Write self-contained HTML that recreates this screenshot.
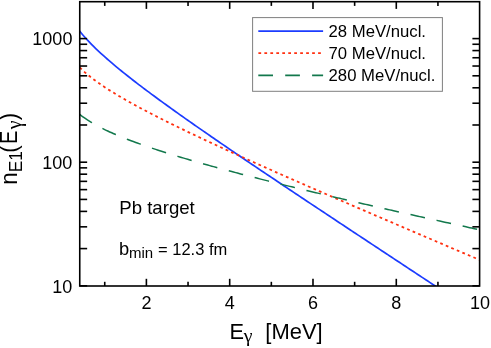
<!DOCTYPE html>
<html><head><meta charset="utf-8"><title>chart</title>
<style>
html,body{margin:0;padding:0;background:#fff;}
body{width:491px;height:348px;overflow:hidden;}
svg{display:block;will-change:transform;}
text{font-family:"Liberation Sans",sans-serif;fill:#000;}
.g{font-family:"Liberation Serif",serif;}
</style></head><body>
<svg width="491" height="348" viewBox="0 0 491 348">
<rect x="0" y="0" width="491" height="348" fill="#fff"/>
<defs><clipPath id="cp"><rect x="79.75" y="1.70" width="399.85" height="284.30"/></clipPath></defs>
<g clip-path="url(#cp)" fill="none" stroke-linejoin="round">
<path d="M79.75 31.16 C80.42 31.96 82.42 34.44 83.75 35.99 C85.08 37.53 86.42 39.00 87.75 40.43 C89.08 41.87 90.42 43.24 91.75 44.60 C93.08 45.95 94.42 47.26 95.75 48.54 C97.08 49.83 98.42 51.09 99.75 52.32 C101.08 53.56 102.42 54.77 103.75 55.97 C105.08 57.17 106.42 58.34 107.75 59.50 C109.08 60.66 110.42 61.81 111.75 62.94 C113.08 64.07 114.42 65.19 115.75 66.30 C117.08 67.41 118.42 68.51 119.75 69.60 C121.08 70.68 122.42 71.76 123.75 72.83 C125.08 73.90 126.42 74.96 127.75 76.01 C129.08 77.07 130.42 78.11 131.75 79.15 C133.08 80.19 134.42 81.22 135.75 82.25 C137.08 83.28 138.42 84.30 139.75 85.31 C141.08 86.33 142.42 87.34 143.75 88.34 C145.08 89.35 146.42 90.35 147.75 91.34 C149.08 92.34 150.42 93.33 151.75 94.32 C153.08 95.30 154.42 96.29 155.75 97.27 C157.08 98.25 158.42 99.22 159.75 100.20 C161.08 101.17 162.42 102.14 163.75 103.11 C165.08 104.07 166.42 105.04 167.75 106.00 C169.08 106.96 170.42 107.92 171.75 108.87 C173.08 109.83 174.42 110.78 175.75 111.73 C177.08 112.68 178.42 113.63 179.75 114.58 C181.08 115.52 182.42 116.47 183.75 117.41 C185.08 118.35 186.42 119.29 187.75 120.23 C189.08 121.17 190.42 122.10 191.75 123.04 C193.08 123.97 194.42 124.90 195.75 125.84 C197.08 126.77 198.42 127.70 199.75 128.62 C201.08 129.55 202.42 130.48 203.75 131.40 C205.08 132.33 206.42 133.25 207.75 134.17 C209.08 135.09 210.42 136.01 211.75 136.93 C213.08 137.85 214.42 138.77 215.75 139.69 C217.08 140.60 218.42 141.52 219.75 142.43 C221.08 143.35 222.42 144.26 223.75 145.17 C225.08 146.08 226.42 147.00 227.75 147.91 C229.08 148.82 230.42 149.73 231.75 150.63 C233.08 151.54 234.42 152.45 235.75 153.36 C237.08 154.26 238.42 155.17 239.75 156.07 C241.08 156.98 242.42 157.88 243.75 158.78 C245.08 159.69 246.42 160.59 247.75 161.49 C249.08 162.39 250.42 163.29 251.75 164.19 C253.08 165.09 254.42 165.99 255.75 166.89 C257.08 167.79 258.42 168.69 259.75 169.59 C261.08 170.49 262.42 171.38 263.75 172.28 C265.08 173.18 266.42 174.07 267.75 174.97 C269.08 175.86 270.42 176.76 271.75 177.65 C273.08 178.55 274.42 179.44 275.75 180.33 C277.08 181.23 278.42 182.12 279.75 183.01 C281.08 183.90 282.42 184.79 283.75 185.69 C285.08 186.58 286.42 187.47 287.75 188.36 C289.08 189.25 290.42 190.14 291.75 191.03 C293.08 191.92 294.42 192.81 295.75 193.70 C297.08 194.59 298.42 195.47 299.75 196.36 C301.08 197.25 302.42 198.14 303.75 199.03 C305.08 199.91 306.42 200.80 307.75 201.69 C309.08 202.57 310.42 203.46 311.75 204.35 C313.08 205.23 314.42 206.12 315.75 207.01 C317.08 207.89 318.42 208.78 319.75 209.66 C321.08 210.55 322.42 211.43 323.75 212.32 C325.08 213.20 326.42 214.09 327.75 214.97 C329.08 215.85 330.42 216.74 331.75 217.62 C333.08 218.51 334.42 219.39 335.75 220.27 C337.08 221.16 338.42 222.04 339.75 222.92 C341.08 223.81 342.42 224.69 343.75 225.57 C345.08 226.46 346.42 227.34 347.75 228.22 C349.08 229.10 350.42 229.98 351.75 230.87 C353.08 231.75 354.42 232.63 355.75 233.51 C357.08 234.39 358.42 235.28 359.75 236.16 C361.08 237.04 362.42 237.92 363.75 238.80 C365.08 239.68 366.42 240.56 367.75 241.45 C369.08 242.33 370.42 243.21 371.75 244.09 C373.08 244.97 374.42 245.85 375.75 246.73 C377.08 247.61 378.42 248.49 379.75 249.37 C381.08 250.25 382.42 251.13 383.75 252.01 C385.08 252.89 386.42 253.77 387.75 254.66 C389.08 255.54 390.42 256.42 391.75 257.30 C393.08 258.18 394.42 259.06 395.75 259.94 C397.08 260.82 398.42 261.70 399.75 262.58 C401.08 263.46 402.42 264.34 403.75 265.22 C405.08 266.10 406.42 266.98 407.75 267.86 C409.08 268.74 410.42 269.62 411.75 270.50 C413.08 271.38 414.42 272.25 415.75 273.13 C417.08 274.01 418.42 274.89 419.75 275.77 C421.08 276.65 422.42 277.53 423.75 278.41 C425.08 279.29 426.42 280.17 427.75 281.05 C429.08 281.93 430.42 282.81 431.75 283.69 C433.08 284.57 434.96 285.81 435.75 286.33 C436.54 286.85 436.38 286.74 436.50 286.83" stroke="#1c3cff" stroke-width="1.7"/>
<path d="M79.75 67.42 C80.42 68.06 82.42 70.02 83.75 71.24 C85.08 72.45 86.42 73.59 87.75 74.70 C89.08 75.82 90.42 76.88 91.75 77.91 C93.08 78.95 94.42 79.95 95.75 80.92 C97.08 81.90 98.42 82.84 99.75 83.77 C101.08 84.70 102.42 85.61 103.75 86.50 C105.08 87.39 106.42 88.26 107.75 89.11 C109.08 89.97 110.42 90.81 111.75 91.64 C113.08 92.47 114.42 93.29 115.75 94.09 C117.08 94.90 118.42 95.69 119.75 96.48 C121.08 97.27 122.42 98.04 123.75 98.81 C125.08 99.58 126.42 100.34 127.75 101.09 C129.08 101.84 130.42 102.59 131.75 103.33 C133.08 104.07 134.42 104.80 135.75 105.53 C137.08 106.25 138.42 106.97 139.75 107.69 C141.08 108.40 142.42 109.11 143.75 109.82 C145.08 110.52 146.42 111.23 147.75 111.92 C149.08 112.62 150.42 113.31 151.75 114.00 C153.08 114.69 154.42 115.37 155.75 116.05 C157.08 116.73 158.42 117.41 159.75 118.08 C161.08 118.76 162.42 119.43 163.75 120.10 C165.08 120.76 166.42 121.43 167.75 122.09 C169.08 122.75 170.42 123.41 171.75 124.07 C173.08 124.72 174.42 125.38 175.75 126.03 C177.08 126.68 178.42 127.33 179.75 127.98 C181.08 128.62 182.42 129.27 183.75 129.91 C185.08 130.55 186.42 131.19 187.75 131.83 C189.08 132.47 190.42 133.11 191.75 133.74 C193.08 134.37 194.42 135.01 195.75 135.64 C197.08 136.27 198.42 136.90 199.75 137.53 C201.08 138.15 202.42 138.78 203.75 139.41 C205.08 140.03 206.42 140.65 207.75 141.27 C209.08 141.90 210.42 142.52 211.75 143.14 C213.08 143.75 214.42 144.37 215.75 144.99 C217.08 145.60 218.42 146.22 219.75 146.83 C221.08 147.45 222.42 148.06 223.75 148.67 C225.08 149.28 226.42 149.89 227.75 150.50 C229.08 151.11 230.42 151.72 231.75 152.33 C233.08 152.94 234.42 153.54 235.75 154.15 C237.08 154.75 238.42 155.36 239.75 155.96 C241.08 156.56 242.42 157.17 243.75 157.77 C245.08 158.37 246.42 158.97 247.75 159.57 C249.08 160.17 250.42 160.77 251.75 161.37 C253.08 161.97 254.42 162.56 255.75 163.16 C257.08 163.76 258.42 164.35 259.75 164.95 C261.08 165.55 262.42 166.14 263.75 166.73 C265.08 167.33 266.42 167.92 267.75 168.51 C269.08 169.11 270.42 169.70 271.75 170.29 C273.08 170.88 274.42 171.47 275.75 172.06 C277.08 172.65 278.42 173.24 279.75 173.83 C281.08 174.42 282.42 175.01 283.75 175.60 C285.08 176.19 286.42 176.77 287.75 177.36 C289.08 177.95 290.42 178.54 291.75 179.12 C293.08 179.71 294.42 180.29 295.75 180.88 C297.08 181.46 298.42 182.05 299.75 182.63 C301.08 183.22 302.42 183.80 303.75 184.38 C305.08 184.97 306.42 185.55 307.75 186.13 C309.08 186.71 310.42 187.30 311.75 187.88 C313.08 188.46 314.42 189.04 315.75 189.62 C317.08 190.20 318.42 190.78 319.75 191.36 C321.08 191.94 322.42 192.52 323.75 193.10 C325.08 193.68 326.42 194.26 327.75 194.84 C329.08 195.42 330.42 196.00 331.75 196.58 C333.08 197.15 334.42 197.73 335.75 198.31 C337.08 198.89 338.42 199.46 339.75 200.04 C341.08 200.62 342.42 201.20 343.75 201.77 C345.08 202.35 346.42 202.92 347.75 203.50 C349.08 204.08 350.42 204.65 351.75 205.23 C353.08 205.80 354.42 206.38 355.75 206.95 C357.08 207.53 358.42 208.10 359.75 208.68 C361.08 209.25 362.42 209.83 363.75 210.40 C365.08 210.97 366.42 211.55 367.75 212.12 C369.08 212.69 370.42 213.27 371.75 213.84 C373.08 214.41 374.42 214.99 375.75 215.56 C377.08 216.13 378.42 216.70 379.75 217.28 C381.08 217.85 382.42 218.42 383.75 218.99 C385.08 219.57 386.42 220.14 387.75 220.71 C389.08 221.28 390.42 221.85 391.75 222.42 C393.08 223.00 394.42 223.57 395.75 224.14 C397.08 224.71 398.42 225.28 399.75 225.85 C401.08 226.42 402.42 226.99 403.75 227.56 C405.08 228.13 406.42 228.70 407.75 229.27 C409.08 229.84 410.42 230.41 411.75 230.98 C413.08 231.55 414.42 232.12 415.75 232.69 C417.08 233.26 418.42 233.83 419.75 234.40 C421.08 234.97 422.42 235.54 423.75 236.11 C425.08 236.68 426.42 237.25 427.75 237.82 C429.08 238.39 430.42 238.96 431.75 239.52 C433.08 240.09 434.42 240.66 435.75 241.23 C437.08 241.80 438.42 242.37 439.75 242.94 C441.08 243.50 442.42 244.07 443.75 244.64 C445.08 245.21 446.42 245.78 447.75 246.35 C449.08 246.91 450.42 247.48 451.75 248.05 C453.08 248.62 454.42 249.19 455.75 249.75 C457.08 250.32 458.42 250.89 459.75 251.46 C461.08 252.03 462.42 252.59 463.75 253.16 C465.08 253.73 466.42 254.30 467.75 254.86 C469.08 255.43 470.42 256.00 471.75 256.57 C473.08 257.13 474.44 257.71 475.75 258.27 C477.06 258.83 478.96 259.63 479.60 259.91" stroke="#ff3010" stroke-width="1.8" stroke-dasharray="2.76 3.243"/>
<path d="M79.75 114.37 C80.42 114.87 82.42 116.42 83.75 117.37 C85.08 118.32 86.42 119.22 87.75 120.09 C89.08 120.95 90.42 121.78 91.75 122.57 C93.08 123.37 94.42 124.13 95.75 124.88 C97.08 125.62 98.42 126.33 99.75 127.03 C101.08 127.72 102.42 128.39 103.75 129.05 C105.08 129.71 106.42 130.35 107.75 130.97 C109.08 131.60 110.42 132.21 111.75 132.80 C113.08 133.40 114.42 133.98 115.75 134.56 C117.08 135.13 118.42 135.69 119.75 136.24 C121.08 136.80 122.42 137.34 123.75 137.87 C125.08 138.40 126.42 138.93 127.75 139.45 C129.08 139.96 130.42 140.47 131.75 140.98 C133.08 141.48 134.42 141.97 135.75 142.46 C137.08 142.95 138.42 143.43 139.75 143.91 C141.08 144.39 142.42 144.86 143.75 145.33 C145.08 145.80 146.42 146.26 147.75 146.71 C149.08 147.17 150.42 147.62 151.75 148.07 C153.08 148.52 154.42 148.96 155.75 149.40 C157.08 149.84 158.42 150.28 159.75 150.71 C161.08 151.14 162.42 151.57 163.75 151.99 C165.08 152.42 166.42 152.84 167.75 153.26 C169.08 153.68 170.42 154.09 171.75 154.51 C173.08 154.92 174.42 155.33 175.75 155.73 C177.08 156.14 178.42 156.54 179.75 156.95 C181.08 157.35 182.42 157.75 183.75 158.14 C185.08 158.54 186.42 158.93 187.75 159.32 C189.08 159.72 190.42 160.11 191.75 160.49 C193.08 160.88 194.42 161.27 195.75 161.65 C197.08 162.03 198.42 162.41 199.75 162.79 C201.08 163.17 202.42 163.55 203.75 163.93 C205.08 164.30 206.42 164.68 207.75 165.05 C209.08 165.42 210.42 165.79 211.75 166.16 C213.08 166.53 214.42 166.90 215.75 167.26 C217.08 167.63 218.42 167.99 219.75 168.36 C221.08 168.72 222.42 169.08 223.75 169.44 C225.08 169.80 226.42 170.16 227.75 170.52 C229.08 170.87 230.42 171.23 231.75 171.58 C233.08 171.94 234.42 172.29 235.75 172.64 C237.08 173.00 238.42 173.35 239.75 173.70 C241.08 174.05 242.42 174.40 243.75 174.74 C245.08 175.09 246.42 175.44 247.75 175.78 C249.08 176.13 250.42 176.47 251.75 176.82 C253.08 177.16 254.42 177.50 255.75 177.84 C257.08 178.18 258.42 178.53 259.75 178.86 C261.08 179.20 262.42 179.54 263.75 179.88 C265.08 180.22 266.42 180.55 267.75 180.89 C269.08 181.23 270.42 181.56 271.75 181.90 C273.08 182.23 274.42 182.56 275.75 182.90 C277.08 183.23 278.42 183.56 279.75 183.89 C281.08 184.22 282.42 184.55 283.75 184.88 C285.08 185.21 286.42 185.54 287.75 185.87 C289.08 186.20 290.42 186.52 291.75 186.85 C293.08 187.18 294.42 187.50 295.75 187.83 C297.08 188.15 298.42 188.48 299.75 188.80 C301.08 189.12 302.42 189.45 303.75 189.77 C305.08 190.09 306.42 190.42 307.75 190.74 C309.08 191.06 310.42 191.38 311.75 191.70 C313.08 192.02 314.42 192.34 315.75 192.66 C317.08 192.98 318.42 193.29 319.75 193.61 C321.08 193.93 322.42 194.25 323.75 194.56 C325.08 194.88 326.42 195.20 327.75 195.51 C329.08 195.83 330.42 196.14 331.75 196.46 C333.08 196.77 334.42 197.09 335.75 197.40 C337.08 197.71 338.42 198.03 339.75 198.34 C341.08 198.65 342.42 198.96 343.75 199.28 C345.08 199.59 346.42 199.90 347.75 200.21 C349.08 200.52 350.42 200.83 351.75 201.14 C353.08 201.45 354.42 201.76 355.75 202.07 C357.08 202.38 358.42 202.69 359.75 202.99 C361.08 203.30 362.42 203.61 363.75 203.92 C365.08 204.23 366.42 204.53 367.75 204.84 C369.08 205.15 370.42 205.45 371.75 205.76 C373.08 206.06 374.42 206.37 375.75 206.67 C377.08 206.98 378.42 207.28 379.75 207.59 C381.08 207.89 382.42 208.19 383.75 208.50 C385.08 208.80 386.42 209.10 387.75 209.41 C389.08 209.71 390.42 210.01 391.75 210.31 C393.08 210.62 394.42 210.92 395.75 211.22 C397.08 211.52 398.42 211.82 399.75 212.12 C401.08 212.42 402.42 212.72 403.75 213.02 C405.08 213.32 406.42 213.62 407.75 213.92 C409.08 214.22 410.42 214.52 411.75 214.82 C413.08 215.12 414.42 215.42 415.75 215.72 C417.08 216.01 418.42 216.31 419.75 216.61 C421.08 216.91 422.42 217.20 423.75 217.50 C425.08 217.80 426.42 218.09 427.75 218.39 C429.08 218.69 430.42 218.98 431.75 219.28 C433.08 219.58 434.42 219.87 435.75 220.17 C437.08 220.46 438.42 220.76 439.75 221.05 C441.08 221.35 442.42 221.64 443.75 221.94 C445.08 222.23 446.42 222.52 447.75 222.82 C449.08 223.11 450.42 223.40 451.75 223.70 C453.08 223.99 454.42 224.28 455.75 224.58 C457.08 224.87 458.42 225.16 459.75 225.45 C461.08 225.75 462.42 226.04 463.75 226.33 C465.08 226.62 466.42 226.91 467.75 227.21 C469.08 227.50 470.42 227.79 471.75 228.08 C473.08 228.37 474.44 228.67 475.75 228.95 C477.06 229.24 478.96 229.65 479.60 229.79" stroke="#12784c" stroke-width="1.5" stroke-dasharray="14.8 11.9"/>
</g>
<g stroke="#000" stroke-width="1.6" fill="none">
<rect x="79.75" y="1.70" width="399.85" height="284.30"/>
<line x1="104.74" y1="286.00" x2="104.74" y2="281.80"/>
<line x1="104.74" y1="1.70" x2="104.74" y2="5.90"/>
<line x1="146.39" y1="286.00" x2="146.39" y2="278.80"/>
<line x1="146.39" y1="1.70" x2="146.39" y2="8.90"/>
<line x1="188.04" y1="286.00" x2="188.04" y2="281.80"/>
<line x1="188.04" y1="1.70" x2="188.04" y2="5.90"/>
<line x1="229.69" y1="286.00" x2="229.69" y2="278.80"/>
<line x1="229.69" y1="1.70" x2="229.69" y2="8.90"/>
<line x1="271.34" y1="286.00" x2="271.34" y2="281.80"/>
<line x1="271.34" y1="1.70" x2="271.34" y2="5.90"/>
<line x1="312.99" y1="286.00" x2="312.99" y2="278.80"/>
<line x1="312.99" y1="1.70" x2="312.99" y2="8.90"/>
<line x1="354.64" y1="286.00" x2="354.64" y2="281.80"/>
<line x1="354.64" y1="1.70" x2="354.64" y2="5.90"/>
<line x1="396.29" y1="286.00" x2="396.29" y2="278.80"/>
<line x1="396.29" y1="1.70" x2="396.29" y2="8.90"/>
<line x1="437.94" y1="286.00" x2="437.94" y2="281.80"/>
<line x1="437.94" y1="1.70" x2="437.94" y2="5.90"/>
<line x1="79.75" y1="285.80" x2="87.15" y2="285.80"/>
<line x1="479.60" y1="285.80" x2="472.40" y2="285.80"/>
<line x1="79.75" y1="248.59" x2="87.15" y2="248.59"/>
<line x1="479.60" y1="248.59" x2="472.40" y2="248.59"/>
<line x1="79.75" y1="226.83" x2="87.15" y2="226.83"/>
<line x1="479.60" y1="226.83" x2="472.40" y2="226.83"/>
<line x1="79.75" y1="211.39" x2="87.15" y2="211.39"/>
<line x1="479.60" y1="211.39" x2="472.40" y2="211.39"/>
<line x1="79.75" y1="199.41" x2="87.15" y2="199.41"/>
<line x1="479.60" y1="199.41" x2="472.40" y2="199.41"/>
<line x1="79.75" y1="189.62" x2="87.15" y2="189.62"/>
<line x1="479.60" y1="189.62" x2="472.40" y2="189.62"/>
<line x1="79.75" y1="181.35" x2="87.15" y2="181.35"/>
<line x1="479.60" y1="181.35" x2="472.40" y2="181.35"/>
<line x1="79.75" y1="174.18" x2="87.15" y2="174.18"/>
<line x1="479.60" y1="174.18" x2="472.40" y2="174.18"/>
<line x1="79.75" y1="167.86" x2="87.15" y2="167.86"/>
<line x1="479.60" y1="167.86" x2="472.40" y2="167.86"/>
<line x1="79.75" y1="162.20" x2="87.15" y2="162.20"/>
<line x1="479.60" y1="162.20" x2="472.40" y2="162.20"/>
<line x1="79.75" y1="124.99" x2="87.15" y2="124.99"/>
<line x1="479.60" y1="124.99" x2="472.40" y2="124.99"/>
<line x1="79.75" y1="103.23" x2="87.15" y2="103.23"/>
<line x1="479.60" y1="103.23" x2="472.40" y2="103.23"/>
<line x1="79.75" y1="87.79" x2="87.15" y2="87.79"/>
<line x1="479.60" y1="87.79" x2="472.40" y2="87.79"/>
<line x1="79.75" y1="75.81" x2="87.15" y2="75.81"/>
<line x1="479.60" y1="75.81" x2="472.40" y2="75.81"/>
<line x1="79.75" y1="66.02" x2="87.15" y2="66.02"/>
<line x1="479.60" y1="66.02" x2="472.40" y2="66.02"/>
<line x1="79.75" y1="57.75" x2="87.15" y2="57.75"/>
<line x1="479.60" y1="57.75" x2="472.40" y2="57.75"/>
<line x1="79.75" y1="50.58" x2="87.15" y2="50.58"/>
<line x1="479.60" y1="50.58" x2="472.40" y2="50.58"/>
<line x1="79.75" y1="44.26" x2="87.15" y2="44.26"/>
<line x1="479.60" y1="44.26" x2="472.40" y2="44.26"/>
<line x1="79.75" y1="38.60" x2="87.15" y2="38.60"/>
<line x1="479.60" y1="38.60" x2="472.40" y2="38.60"/>
</g>
<!-- legend -->
<rect x="252.6" y="17.6" width="189.8" height="73.7" fill="#fff" stroke="#7f7f7f" stroke-width="1"/>
<line x1="258.3" y1="31.1" x2="323.1" y2="31.1" stroke="#1c3cff" stroke-width="1.6"/>
<line x1="258.4" y1="53.1" x2="321.2" y2="53.1" stroke="#ff3010" stroke-width="1.8" stroke-dasharray="2.75 3.22"/>
<line x1="258.3" y1="75.3" x2="323.1" y2="75.3" stroke="#12784c" stroke-width="1.65" stroke-dasharray="14.7 12.2"/>
<g font-size="16.7">
<text x="328.6" y="36.7">28 MeV/nucl.</text>
<text x="328.6" y="58.7">70 MeV/nucl.</text>
<text x="328.6" y="80.7">280 MeV/nucl.</text>
</g>
<!-- tick labels -->
<g font-size="18" text-anchor="end">
<text x="72.4" y="45.1">1000</text>
<text x="72.4" y="168.7">100</text>
<text x="72.4" y="292.6">10</text>
</g>
<g font-size="18" text-anchor="middle">
<text x="146.4" y="309.2">2</text>
<text x="229.7" y="309.2">4</text>
<text x="313" y="309.2">6</text>
<text x="396.3" y="309.2">8</text>
<text x="480.1" y="309.2">10</text>
</g>
<!-- annotations -->
<text x="119.3" y="213.7" font-size="18.6">Pb target</text>
<text x="118.9" y="254.7" font-size="18.3">b</text>
<text x="129.0" y="257.5" font-size="15">min</text>
<text x="158.0" y="254.6" font-size="16.5">= 12.3 fm</text>
<!-- axis titles -->
<text transform="translate(229.4,339) scale(0.975,1)" font-size="22.3">E</text>
<text class="g" x="243.8" y="342.2" font-size="19.8">γ</text>
<text transform="translate(265.3,339) scale(0.985,1)" font-size="22.3">[MeV]</text>
<g transform="translate(17.2,0) rotate(-90) scale(1,1.08)">
<text x="-184.7" y="0" font-size="22.3">n</text>
<text x="-172.3" y="4.8" font-size="17.2">E1</text>
<text x="-152.8" y="0" font-size="22.3">(</text>
<text transform="translate(-144.1,0) scale(0.9,1)" font-size="22.3">E</text>
<text class="g" x="-129.2" y="3.2" font-size="19.8">γ</text>
<text x="-120.3" y="0" font-size="22.3">)</text>
</g>
</svg>
</body></html>
